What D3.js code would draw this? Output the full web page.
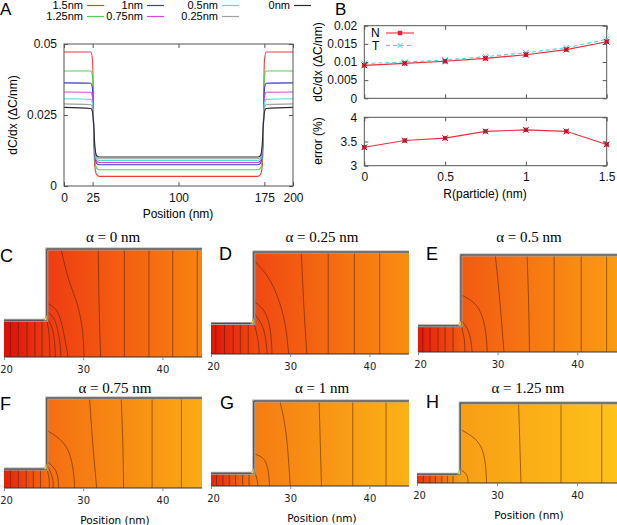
<!DOCTYPE html>
<html>
<head>
<meta charset="utf-8">
<script src="https://cdn.jsdelivr.net/npm/d3@7"></script>
<style>
  body { margin: 0; background: #fff; }
  svg { display: block; }
  text { font-family: "Liberation Sans", Arial, sans-serif; }
</style>
</head>
<body>
<svg id="fig" width="617" height="525"></svg>
<script>
// ---- panel A: gradient profiles ----
var posA = [0, 23.5, 25, 26, 27, 28.5, 31, 100, 169, 171.5, 173, 174, 175, 176.5, 200];
var sizesA = ['1.5nm', '1.25nm', '1nm', '0.75nm', '0.5nm', '0.25nm', '0nm'];
var grad15  = [0.0472, 0.0472, 0.0440, 0.0170, 0.0065, 0.0040, 0.0034, 0.0034, 0.0034, 0.0040, 0.0065, 0.0170, 0.0440, 0.0472, 0.0472];
var grad125 = [0.0405, 0.0405, 0.0385, 0.0180, 0.0090, 0.0063, 0.0057, 0.0057, 0.0057, 0.0063, 0.0090, 0.0180, 0.0385, 0.0405, 0.0405];
var grad1   = [0.0363, 0.0362, 0.0340, 0.0190, 0.0105, 0.0080, 0.0075, 0.0075, 0.0075, 0.0080, 0.0105, 0.0190, 0.0340, 0.0362, 0.0363];
var grad075 = [0.0331, 0.0330, 0.0310, 0.0195, 0.0115, 0.0088, 0.0083, 0.0083, 0.0083, 0.0088, 0.0115, 0.0195, 0.0310, 0.0330, 0.0331];
var grad05  = [0.0307, 0.0305, 0.0290, 0.0200, 0.0125, 0.0095, 0.0090, 0.0090, 0.0090, 0.0095, 0.0125, 0.0200, 0.0290, 0.0305, 0.0307];
var grad025 = [0.0289, 0.0286, 0.0272, 0.0205, 0.0130, 0.0101, 0.0096, 0.0096, 0.0096, 0.0101, 0.0130, 0.0205, 0.0272, 0.0286, 0.0289];
var grad0   = [0.0277, 0.0273, 0.0258, 0.0210, 0.0137, 0.0107, 0.0102, 0.0102, 0.0102, 0.0107, 0.0137, 0.0210, 0.0258, 0.0273, 0.0277];
var colorsA = ['#ee3b3b', '#4fd34f', '#3a3ac8', '#de44de', '#4fdede', '#a0a0a0', '#2a2a2a'];

// ---- panel B ----
var radiusB = [0, 0.25, 0.5, 0.75, 1, 1.25, 1.5];
var gradN = [0.00908, 0.00963, 0.0102, 0.0110, 0.0120, 0.0134, 0.0156];
var gradT = [0.0096, 0.0100, 0.01055, 0.01147, 0.01257, 0.01394, 0.01624];
var errorB = [3.38, 3.52, 3.57, 3.71, 3.74, 3.71, 3.44];

// ---- panels C-H: concentration maps ----
var mapLetters = ['C', 'D', 'E', 'F', 'G', 'H'];
var mapAlphas = ['0', '0.25', '0.5', '0.75', '1', '1.25'];
var narrowFrac = [0.34, 0.30, 0.27, 0.21, 0.15, 0.11];
var narrowLines = [
  [20.8, 21.8, 22.9, 23.9, 24.8],
  [20.6, 21.7, 22.8, 23.7, 24.7],
  [20.6, 21.5, 22.5, 23.4, 24.4],
  [20.8, 21.8, 22.8, 23.7, 24.6],
  [20.7, 21.5, 22.3, 23.1, 24.0, 24.8],
  [20.8, 21.6, 22.3, 23.1, 23.8, 24.5]
];
var wideLines = [
  [ [[25.4,0.34],[25.7,0.2],[25.8,0]],
    [[25.4,0.37],[26.1,0.26],[26.4,0.12],[26.5,0]],
    [[25.4,0.42],[26.4,0.34],[27.0,0.16],[27.2,0]],
    [[25.4,0.5],[26.8,0.41],[27.6,0.2],[28.1,0]],
    [[27.2,1],[28.2,0.71],[29.2,0.5],[29.9,0.25],[30.1,0]],
    [[31.9,1],[32.0,0.5],[32.2,0]],
    [[35.2,1],[35.2,0]], [[38.3,1],[38.3,0]], [[41.3,1],[41.3,0]], [[44.4,1],[44.4,0]] ],
  [ [[25.4,0.31],[25.9,0.15],[26.1,0]],
    [[25.4,0.4],[26.6,0.25],[27.1,0]],
    [[25.4,0.52],[27.0,0.38],[27.6,0.15],[27.7,0]],
    [[25.4,0.92],[27.6,0.7],[29.2,0.35],[29.8,0]],
    [[31.4,1],[31.7,0.5],[32.1,0]],
    [[34.8,1],[34.8,0]], [[38.1,1],[38.1,0]], [[41.3,1],[41.3,0]] ],
  [ [[25.4,0.28],[25.8,0.14],[25.9,0]],
    [[25.4,0.33],[26.4,0.2],[26.8,0]],
    [[25.4,0.59],[27.6,0.45],[28.5,0.2],[28.7,0]],
    [[29.7,1],[30.2,0.6],[30.8,0]],
    [[33.7,1],[33.9,0.5],[34.0,0]],
    [[37.1,1],[37.1,0]], [[40.5,1],[40.5,0]], [[43.7,1],[43.7,0]] ],
  [ [[25.4,0.22],[25.7,0.1],[25.7,0]],
    [[25.4,0.26],[26.1,0.12],[26.2,0]],
    [[25.4,0.3],[26.6,0.18],[26.9,0]],
    [[25.4,0.64],[27.9,0.45],[28.8,0.15],[28.9,0]],
    [[30.8,1],[31.2,0.5],[31.7,0]],
    [[34.8,1],[35.0,0.5],[35.1,0]],
    [[38.7,1],[38.7,0]], [[42.4,1],[42.4,0]] ],
  [ [[25.4,0.2],[25.8,0.08],[25.9,0]],
    [[25.4,0.38],[26.9,0.28],[27.4,0]],
    [[28.7,1],[29.5,0.6],[30.0,0]],
    [[33.65,1],[33.8,0.5],[33.95,0]],
    [[37.9,1],[37.9,0]], [[42.1,1],[42.1,0]] ],
  [ [[25.4,0.17],[26.2,0.1],[26.4,0]],
    [[25.4,0.67],[28.0,0.45],[28.7,0]],
    [[32.7,1],[32.85,0.5],[33.0,0]],
    [[38.0,1],[38.0,0]], [[43.1,1],[43.1,0]] ]
];
var mapColors = [
  ['#dc0d0b', '#ee3c12', '#f8840f'],
  ['#e0140b', '#f04812', '#f98e10'],
  ['#e2180b', '#f25a12', '#fb9c12'],
  ['#e3200b', '#f46e12', '#fbaa14'],
  ['#e3260b', '#f57c12', '#fcb216'],
  ['#e4300b', '#f89e14', '#fec21a']
];
var mapTicks = [20, 30, 40];
var stepPos = 25.4;

var svg = d3.select('#fig');

// ================= panel A =================
var seriesA = [grad15, grad125, grad1, grad075, grad05, grad025, grad0];
var xA = d3.scaleLinear().domain([0, 200]).range([64, 293]);
var yA = d3.scaleLinear().domain([0, 0.05]).range([186, 44]);
var gA = svg.append('g');

gA.append('text').attr('x', 0).attr('y', 15).style('font-size', '17px').text('A');

// legend, gnuplot style, two rows
var legCols = [83, 143, 218, 290], legRows = [5.5, 16.5];
sizesA.forEach(function(s, i) {
  var cx = legCols[Math.floor(i / 2)], cy = legRows[i % 2];
  gA.append('text').attr('x', cx).attr('y', cy).attr('dy', '0.35em')
    .attr('text-anchor', 'end').style('font-size', '11px').text(s);
  gA.append('line').attr('x1', cx + 4).attr('x2', cx + 21).attr('y1', cy).attr('y2', cy)
    .attr('stroke', colorsA[i]).attr('stroke-width', 1.2);
});

var lineA = d3.line().x(function(d) { return xA(d[0]); }).y(function(d) { return yA(d[1]); })
  .curve(d3.curveMonotoneX);
seriesA.forEach(function(vals, i) {
  gA.append('path').attr('d', lineA(posA.map(function(p, k) { return [p, vals[k]]; })))
    .attr('fill', 'none').attr('stroke', colorsA[i]).attr('stroke-width', 1.1);
});

function frame(g, x, y) {
  g.append('rect').attr('x', x.range()[0]).attr('y', y.range()[1])
    .attr('width', x.range()[1] - x.range()[0]).attr('height', y.range()[0] - y.range()[1])
    .attr('fill', 'none').attr('stroke', '#555').attr('stroke-width', 1);
}
function gnuAxes(g, x, y, xt, yt, xfmt, yfmt, showX) {
  g.append('g').attr('transform', 'translate(0,' + y.range()[0] + ')')
    .call(d3.axisBottom(x).tickValues(xt).tickSize(-4).tickPadding(7).tickFormat(showX ? xfmt : ''));
  g.append('g').attr('transform', 'translate(0,' + y.range()[1] + ')')
    .call(d3.axisTop(x).tickValues(xt).tickSize(-4).tickFormat(''));
  g.append('g').attr('transform', 'translate(' + x.range()[0] + ',0)')
    .call(d3.axisLeft(y).tickValues(yt).tickSize(-4).tickPadding(7).tickFormat(yfmt));
  g.append('g').attr('transform', 'translate(' + x.range()[1] + ',0)')
    .call(d3.axisRight(y).tickValues(yt).tickSize(-4).tickFormat(''));
  g.selectAll('.domain').remove();
  g.selectAll('.tick line').attr('stroke', '#555');
  g.selectAll('.tick text').style('font-size', '12px').attr('fill', '#111')
    .style('font-family', '"Liberation Sans", Arial, sans-serif');
  frame(g, x, y);
}
var fmtNum = function(d) { return String(+d.toFixed(4)); };
gnuAxes(gA, xA, yA, [0, 25, 100, 175, 200], [0, 0.025, 0.05], fmtNum, fmtNum, true);
gA.append('text').attr('transform', 'translate(13,115) rotate(-90)').attr('text-anchor', 'middle')
  .attr('dy', '0.35em').style('font-size', '12px').text('dC/dx (ΔC/nm)');
gA.append('text').attr('x', 178).attr('y', 214).attr('text-anchor', 'middle')
  .attr('dy', '0.35em').style('font-size', '12px').text('Position (nm)');

// ================= panel B =================
var gB = svg.append('g');
gB.append('text').attr('x', 335).attr('y', 15).style('font-size', '17px').text('B');
var xB = d3.scaleLinear().domain([0, 1.5]).range([364.3, 606.7]);
var yB1 = d3.scaleLinear().domain([0, 0.02]).range([98.3, 25.7]);
var yB2 = d3.scaleLinear().domain([3, 4]).range([165.7, 117.3]);
var gB1 = gB.append('g'), gB2 = gB.append('g');
gnuAxes(gB1, xB, yB1, [0, 0.5, 1, 1.5], [0, 0.005, 0.01, 0.015, 0.02], fmtNum, fmtNum, false);
gnuAxes(gB2, xB, yB2, [0, 0.5, 1, 1.5], [3, 3.5, 4], fmtNum, fmtNum, true);

var lineB1 = d3.line().x(function(d, i) { return xB(radiusB[i]); }).y(function(d) { return yB1(d); });
var lineB2 = d3.line().x(function(d, i) { return xB(radiusB[i]); }).y(function(d) { return yB2(d); });

function squares(g, vals, y) {
  g.selectAll(null).data(vals).enter().append('rect')
    .attr('x', function(d, i) { return xB(radiusB[i]) - 2.2; })
    .attr('y', function(d) { return y(d) - 2.2; })
    .attr('width', 4.4).attr('height', 4.4).attr('fill', '#e8203a');
}
function crosses(g, vals, y, col) {
  var sym = d3.symbol().type(d3.symbolX).size(22);
  g.selectAll(null).data(vals).enter().append('path')
    .attr('transform', function(d, i) { return 'translate(' + xB(radiusB[i]) + ',' + y(d) + ')'; })
    .attr('d', sym).attr('fill', 'none').attr('stroke', col).attr('stroke-width', 1);
}
gB1.append('path').attr('d', lineB1(gradT)).attr('fill', 'none').attr('stroke', '#40d8e0')
  .attr('stroke-width', 1.1).attr('stroke-dasharray', '4,3');
crosses(gB1, gradT, yB1, '#40d8e0');
gB1.append('path').attr('d', lineB1(gradN)).attr('fill', 'none').attr('stroke', '#e8303a').attr('stroke-width', 1.1);
squares(gB1, gradN, yB1);
crosses(gB1, gradN, yB1, '#7a2030');

gB2.append('path').attr('d', lineB2(errorB)).attr('fill', 'none').attr('stroke', '#e8303a').attr('stroke-width', 1.1);
squares(gB2, errorB, yB2);
crosses(gB2, errorB, yB2, '#7a2030');

// legend B
gB.append('text').attr('x', 371).attr('y', 33).attr('dy', '0.35em').style('font-size', '12px').text('N');
gB.append('text').attr('x', 372).attr('y', 46).attr('dy', '0.35em').style('font-size', '12px').text('T');
gB.append('line').attr('x1', 386).attr('x2', 414).attr('y1', 33).attr('y2', 33).attr('stroke', '#e8303a').attr('stroke-width', 1.1);
gB.append('rect').attr('x', 397.8).attr('y', 30.8).attr('width', 4.4).attr('height', 4.4).attr('fill', '#e8203a');
gB.append('line').attr('x1', 386).attr('x2', 414).attr('y1', 45.5).attr('y2', 45.5).attr('stroke', '#40d8e0')
  .attr('stroke-width', 1.1).attr('stroke-dasharray', '4,3');
gB.append('path').attr('transform', 'translate(400,45.5)').attr('d', d3.symbol().type(d3.symbolX).size(22))
  .attr('fill', 'none').attr('stroke', '#40d8e0');

gB.append('text').attr('transform', 'translate(318,62) rotate(-90)').attr('text-anchor', 'middle')
  .attr('dy', '0.35em').style('font-size', '12px').text('dC/dx (ΔC/nm)');
gB.append('text').attr('transform', 'translate(318,141) rotate(-90)').attr('text-anchor', 'middle')
  .attr('dy', '0.35em').style('font-size', '12px').text('error (%)');
gB.append('text').attr('x', 485).attr('y', 194).attr('text-anchor', 'middle')
  .attr('dy', '0.35em').style('font-size', '12px').text('R(particle) (nm)');

// ================= panels C-H =================
var boxes = [
  {l: 4, r: 202, t: 249, b: 357, title: [113, 242], letter: [0, 262]},
  {l: 211, r: 409, t: 252, b: 354, title: [322, 242], letter: [219, 260]},
  {l: 418, r: 617, t: 255, b: 352, title: [529, 242], letter: [426, 260]},
  {l: 4, r: 202, t: 398, b: 488, title: [115, 393], letter: [0, 410]},
  {l: 211, r: 409, t: 401, b: 486, title: [322, 393], letter: [220, 409]},
  {l: 417, r: 617, t: 403, b: 483, title: [528, 393], letter: [426, 408]}
];
var defs = svg.append('defs');

boxes.forEach(function(bx, k) {
  var g = svg.append('g');
  var x = d3.scaleLinear().domain([20, 45]).range([bx.l, bx.r]);
  var y = d3.scaleLinear().domain([0, 1]).range([bx.b, bx.t]);
  var h = narrowFrac[k];
  var cols = mapColors[k];

  var gr = defs.append('linearGradient').attr('id', 'mg' + k)
    .attr('gradientUnits', 'userSpaceOnUse')
    .attr('x1', x(20)).attr('x2', x(45)).attr('y1', 0).attr('y2', 0);
  gr.append('stop').attr('offset', 0).attr('stop-color', cols[0]);
  gr.append('stop').attr('offset', (stepPos - 20) / 25).attr('stop-color', cols[1]);
  gr.append('stop').attr('offset', 1).attr('stop-color', cols[2]);

  var shape = [[45, 0], [20, 0], [20, h], [stepPos, h], [stepPos, 1], [45, 1]];
  var poly = d3.line().x(function(d) { return x(d[0]); }).y(function(d) { return y(d[1]); });
  g.append('path').attr('d', poly(shape) + 'Z').attr('fill', 'url(#mg' + k + ')');

  var contour = d3.line().x(function(d) { return x(d[0]); }).y(function(d) { return y(d[1]); })
    .curve(d3.curveNatural);
  narrowLines[k].forEach(function(p) {
    g.append('path').attr('d', contour([[p, 0], [p, h]]))
      .attr('fill', 'none').attr('stroke', '#4a1a08').attr('stroke-opacity', 0.75).attr('stroke-width', 0.7);
  });
  wideLines[k].forEach(function(pts) {
    g.append('path').attr('d', contour(pts))
      .attr('fill', 'none').attr('stroke', '#4a1a08').attr('stroke-opacity', 0.75).attr('stroke-width', 0.7);
  });

  // walls
  var wall = [[45, 1], [stepPos, 1], [stepPos, h], [20, h]];
  g.append('path').attr('d', poly(wall)).attr('fill', 'none').attr('stroke', '#a8a8a8').attr('stroke-width', 3);
  g.append('path').attr('d', poly(wall)).attr('fill', 'none').attr('stroke', '#333').attr('stroke-width', 0.9);
  g.append('line').attr('x1', x(20)).attr('x2', x(45)).attr('y1', y(0)).attr('y2', y(0))
    .attr('stroke', '#333').attr('stroke-width', 1.2);

  // particle at the corner
  var cx = x(stepPos), cy = y(h);
  g.append('path').attr('d', 'M' + (cx - 3) + ',' + cy + 'L' + cx + ',' + (cy - 5) + 'L' + cx + ',' + cy + 'Z')
    .attr('fill', '#f6e45a').attr('stroke', '#9a8a40').attr('stroke-width', 0.5);

  // axis
  var ax = g.append('g').attr('transform', 'translate(0,' + y(0) + ')')
    .call(d3.axisBottom(x).tickValues(mapTicks).tickSize(3).tickPadding(6));
  ax.select('.domain').remove();
  ax.selectAll('.tick line').attr('stroke', '#888');
  ax.selectAll('.tick text').style('font-family', '"DejaVu Sans", sans-serif').style('font-size', '10px').attr('fill', '#222');
  ax.selectAll('.tick text').filter(function(d) { return d === 20; }).attr('x', 2);
  if (k >= 3) {
    g.append('text').attr('x', (x(20) + x(45)) / 2 + 12).attr('y', y(0) + 32).attr('dy', '0.35em')
      .attr('text-anchor', 'middle').style('font-family', '"DejaVu Sans", sans-serif')
      .style('font-size', '10.5px').text('Position (nm)');
  }

  g.append('text').attr('x', bx.title[0]).attr('y', bx.title[1]).attr('text-anchor', 'middle')
    .style('font-family', '"Liberation Serif", "DejaVu Serif", serif').style('font-size', '15px')
    .text('α = ' + mapAlphas[k] + ' nm');
  g.append('text').attr('x', bx.letter[0]).attr('y', bx.letter[1]).style('font-size', '18px')
    .text(mapLetters[k]);
});
</script>
</body>
</html>
